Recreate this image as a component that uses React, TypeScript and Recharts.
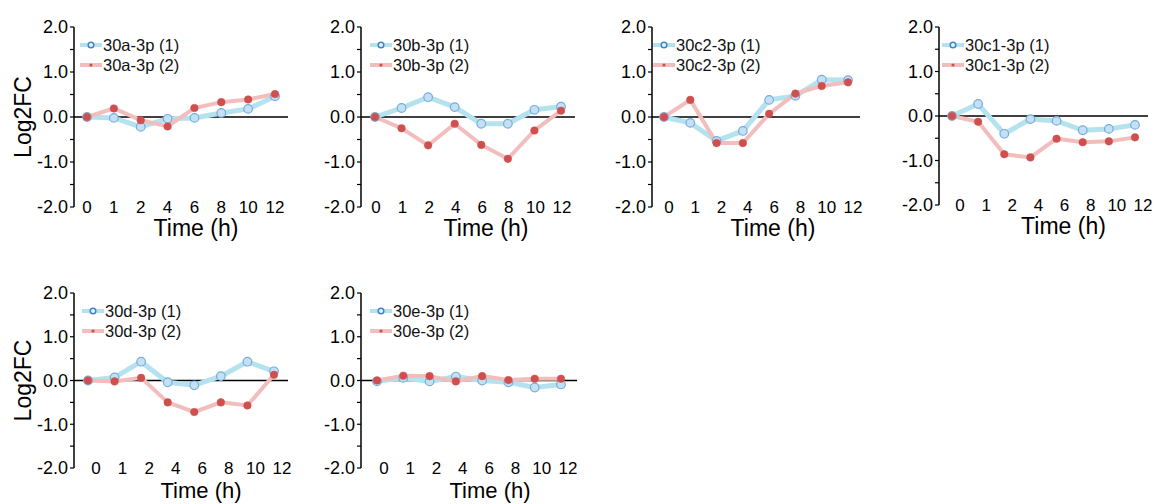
import React from "react";
import { LineChart, Line, XAxis, YAxis, ReferenceLine, Legend } from "recharts";

const times = ["0", "1", "2", "4", "6", "8", "10", "12"];
const yTicks = [-2, -1.5, -1, -0.5, 0, 0.5, 1, 1.5, 2];

// log2 fold change per time point, replicate (1) and (2)
const mir30a1 = [0, -0.02, -0.22, -0.04, -0.02, 0.09, 0.18, 0.46];
const mir30a2 = [0, 0.19, -0.07, -0.21, 0.2, 0.33, 0.39, 0.51];
const mir30b1 = [0, 0.2, 0.44, 0.22, -0.15, -0.15, 0.16, 0.23];
const mir30b2 = [0, -0.25, -0.63, -0.15, -0.62, -0.93, -0.3, 0.14];
const mir30c2a = [0, -0.13, -0.53, -0.31, 0.38, 0.47, 0.83, 0.82];
const mir30c2b = [0, 0.38, -0.58, -0.58, 0.07, 0.52, 0.69, 0.77];
const mir30c1a = [0, 0.27, -0.4, -0.07, -0.11, -0.32, -0.29, -0.2];
const mir30c1b = [0, -0.13, -0.86, -0.93, -0.51, -0.59, -0.57, -0.48];
const mir30d1 = [0, 0.07, 0.43, -0.04, -0.11, 0.1, 0.43, 0.21];
const mir30d2 = [0, -0.02, 0.06, -0.5, -0.72, -0.5, -0.57, 0.13];
const mir30e1 = [-0.02, 0.06, -0.02, 0.09, 0, -0.04, -0.16, -0.09];
const mir30e2 = [0, 0.11, 0.1, -0.02, 0.1, 0.01, 0.04, 0.04];

const FONT = '"Liberation Sans", Arial, Helvetica, sans-serif';
const blueLine = "#b4e2ee";
const blueFill = "#c3e1f2";
const blueStroke = "#78acdc";
const redLine = "#f2bdbd";
const redDot = "#cf4e4e";

const AXIS_W = 74;

const panels = [
  { name: "30a-3p", s1: mir30a1, s2: mir30a2, left: 0, top: 0, plotW: 214, plotH: 180, h: 250, pad: 13, tickDx: 0, titleDx: 15, titleDy: 29, titleSize: 23, legDx: 6, yLabel: true },
  { name: "30b-3p", s1: mir30b1, s2: mir30b2, left: 287, top: 0, plotW: 214, plotH: 180, h: 250, pad: 14, tickDx: 1, titleDx: 18, titleDy: 29, titleSize: 23, legDx: 9, yLabel: false },
  { name: "30c2-3p", s1: mir30c2a, s2: mir30c2b, left: 578, top: 0, plotW: 208, plotH: 180, h: 250, pad: 12, tickDx: 5, titleDx: 17, titleDy: 29, titleSize: 23, legDx: 1, yLabel: false },
  { name: "30c1-3p", s1: mir30c1a, s2: mir30c1b, left: 865, top: 0, plotW: 209, plotH: 178, h: 250, pad: 13, tickDx: 8, titleDx: 20, titleDy: 29, titleSize: 23, legDx: 3, yLabel: false },
  { name: "30d-3p", s1: mir30d1, s2: mir30d2, left: 0, top: 266, plotW: 214, plotH: 175, h: 238, pad: 14, tickDx: 8, titleDx: 20, titleDy: 30, titleSize: 22, legDx: 8, yLabel: true },
  { name: "30e-3p", s1: mir30e1, s2: mir30e2, left: 287, top: 266, plotW: 216, plotH: 175, h: 238, pad: 16, tickDx: 7, titleDx: 21, titleDy: 30, titleSize: 22, legDx: 9, yLabel: false },
];

function legendContent(name: string) {
  return () => (
    <div style={{ fontFamily: FONT, fontSize: 16.5, lineHeight: "20px", color: "#111", whiteSpace: "nowrap" }}>
      <div style={{ display: "flex", alignItems: "center" }}>
        <svg width={22} height={12} style={{ marginRight: 1 }}>
          <line x1={0} y1={6} x2={22} y2={6} stroke={blueLine} strokeWidth={4} />
          <circle cx={11} cy={6} r={2.8} fill="#e8f3fb" stroke="#3f86c8" strokeWidth={1.5} />
        </svg>
        <span>{name} (1)</span>
      </div>
      <div style={{ display: "flex", alignItems: "center" }}>
        <svg width={22} height={12} style={{ marginRight: 1 }}>
          <line x1={0} y1={6} x2={22} y2={6} stroke={redLine} strokeWidth={4} />
          <circle cx={11} cy={6} r={1.6} fill={redDot} />
        </svg>
        <span>{name} (2)</span>
      </div>
    </div>
  );
}

function Panel({ p }: { p: (typeof panels)[number] }) {
  const data = times.map((t, i) => ({ time: t, r1: p.s1[i], r2: p.s2[i] }));
  const width = AXIS_W + p.plotW + 4;
  const marginTop = 27;
  const xAxisH = p.h - marginTop - p.plotH;

  const yLabel = (props: any) => {
    const vb = props.viewBox || { x: 0, y: marginTop, height: p.plotH };
    const cx = 23;
    const cy = vb.y + vb.height / 2;
    return (
      <text x={cx} y={cy} transform={`rotate(-90 ${cx} ${cy})`} textAnchor="middle" dominantBaseline="central"
        fontFamily={FONT} fontSize={23} fill="#000">
        Log2FC
      </text>
    );
  };

  const xLabel = (props: any) => {
    const vb = props.viewBox || { x: AXIS_W, y: marginTop + p.plotH, width: p.plotW };
    return (
      <text x={vb.x + vb.width / 2 + p.titleDx} y={vb.y + p.titleDy} textAnchor="middle" fontFamily={FONT} fontSize={p.titleSize} fill="#000">
        Time (h)
      </text>
    );
  };

  return (
    <div style={{ position: "absolute", left: p.left, top: p.top }}>
      <LineChart width={width} height={p.h} data={data} margin={{ top: marginTop, right: 4, bottom: 0, left: 0 }}>
        <XAxis
          dataKey="time"
          height={xAxisH}
          padding={{ left: p.pad, right: p.pad }}
          axisLine={false}
          tickLine={false}
          tickSize={0}
          tickMargin={0}
          interval={0}
          tick={{ fill: "#000", fontSize: 17, fontFamily: FONT, dy: -6, dx: p.tickDx }}
          label={xLabel}
        />
        <YAxis
          width={AXIS_W}
          domain={[-2, 2]}
          ticks={yTicks}
          interval={0}
          allowDataOverflow
          axisLine={{ stroke: "#000", strokeWidth: 1.5 }}
          tickLine={{ stroke: "#000", strokeWidth: 1.2 }}
          tickSize={4}
          tickMargin={2}
          tickFormatter={(v: number) => (Number.isInteger(v) ? v.toFixed(1) : "")}
          tick={{ fill: "#000", fontSize: 18, fontFamily: FONT }}
          label={p.yLabel ? yLabel : undefined}
        />
        <ReferenceLine y={0} stroke="#000" strokeWidth={1.5} />
        <Legend
          layout="vertical"
          align="center"
          verticalAlign="middle"
          content={legendContent(p.name)}
          wrapperStyle={{ left: AXIS_W + p.legDx, top: marginTop + 8, width: "auto", height: "auto" }}
        />
        <Line
          dataKey="r1"
          type="linear"
          stroke={blueLine}
          strokeWidth={5}
          dot={{ r: 4.3, fill: blueFill, stroke: blueStroke, strokeWidth: 1.2 }}
          activeDot={false}
          isAnimationActive={false}
        />
        <Line
          dataKey="r2"
          type="linear"
          stroke={redLine}
          strokeWidth={4}
          dot={{ r: 3.8, fill: redDot, stroke: redDot, strokeWidth: 0.5 }}
          activeDot={false}
          isAnimationActive={false}
        />
      </LineChart>
    </div>
  );
}

export default function App() {
  return (
    <div style={{ position: "absolute", left: 0, top: 0, width: 1159, height: 504, overflow: "hidden", background: "#fff" }}>
      {panels.map((p) => (
        <Panel key={p.name} p={p} />
      ))}
    </div>
  );
}
